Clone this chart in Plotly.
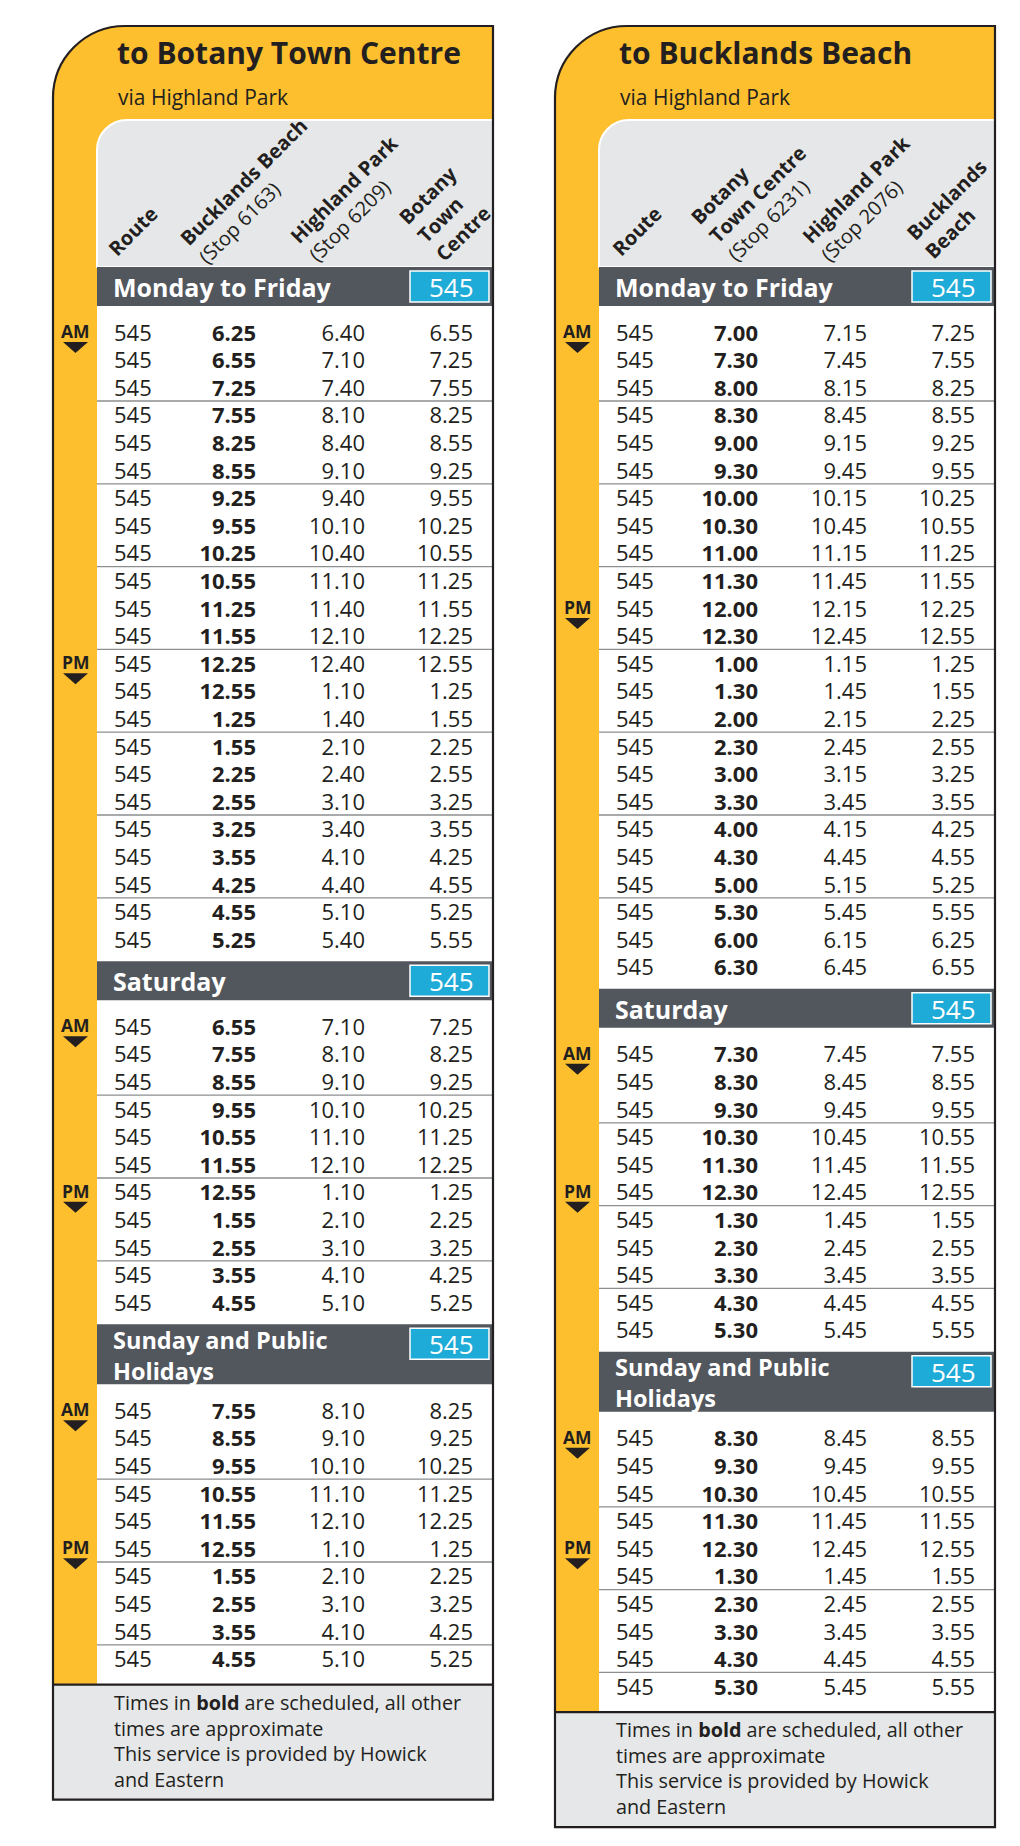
import plotly.graph_objects as go

# ---------------- timetable data ----------------
route_no = "545"

# to Botany Town Centre (via Highland Park)
btc_mf_bucklands = ["6.25", "6.55", "7.25", "7.55", "8.25", "8.55", "9.25", "9.55", "10.25", "10.55", "11.25", "11.55",
                    "12.25", "12.55", "1.25", "1.55", "2.25", "2.55", "3.25", "3.55", "4.25", "4.55", "5.25"]
btc_mf_highland = ["6.40", "7.10", "7.40", "8.10", "8.40", "9.10", "9.40", "10.10", "10.40", "11.10", "11.40", "12.10",
                   "12.40", "1.10", "1.40", "2.10", "2.40", "3.10", "3.40", "4.10", "4.40", "5.10", "5.40"]
btc_mf_botany = ["6.55", "7.25", "7.55", "8.25", "8.55", "9.25", "9.55", "10.25", "10.55", "11.25", "11.55", "12.25",
                 "12.55", "1.25", "1.55", "2.25", "2.55", "3.25", "3.55", "4.25", "4.55", "5.25", "5.55"]
btc_mf_pm = 12

btc_sat_bucklands = ["6.55", "7.55", "8.55", "9.55", "10.55", "11.55", "12.55", "1.55", "2.55", "3.55", "4.55"]
btc_sat_highland = ["7.10", "8.10", "9.10", "10.10", "11.10", "12.10", "1.10", "2.10", "3.10", "4.10", "5.10"]
btc_sat_botany = ["7.25", "8.25", "9.25", "10.25", "11.25", "12.25", "1.25", "2.25", "3.25", "4.25", "5.25"]
btc_sat_pm = 6

btc_sun_bucklands = ["7.55", "8.55", "9.55", "10.55", "11.55", "12.55", "1.55", "2.55", "3.55", "4.55"]
btc_sun_highland = ["8.10", "9.10", "10.10", "11.10", "12.10", "1.10", "2.10", "3.10", "4.10", "5.10"]
btc_sun_botany = ["8.25", "9.25", "10.25", "11.25", "12.25", "1.25", "2.25", "3.25", "4.25", "5.25"]
btc_sun_pm = 5

# to Bucklands Beach (via Highland Park)
bb_mf_botany = ["7.00", "7.30", "8.00", "8.30", "9.00", "9.30", "10.00", "10.30", "11.00", "11.30", "12.00", "12.30",
                "1.00", "1.30", "2.00", "2.30", "3.00", "3.30", "4.00", "4.30", "5.00", "5.30", "6.00", "6.30"]
bb_mf_highland = ["7.15", "7.45", "8.15", "8.45", "9.15", "9.45", "10.15", "10.45", "11.15", "11.45", "12.15", "12.45",
                  "1.15", "1.45", "2.15", "2.45", "3.15", "3.45", "4.15", "4.45", "5.15", "5.45", "6.15", "6.45"]
bb_mf_bucklands = ["7.25", "7.55", "8.25", "8.55", "9.25", "9.55", "10.25", "10.55", "11.25", "11.55", "12.25", "12.55",
                   "1.25", "1.55", "2.25", "2.55", "3.25", "3.55", "4.25", "4.55", "5.25", "5.55", "6.25", "6.55"]
bb_mf_pm = 10

bb_sat_botany = ["7.30", "8.30", "9.30", "10.30", "11.30", "12.30", "1.30", "2.30", "3.30", "4.30", "5.30"]
bb_sat_highland = ["7.45", "8.45", "9.45", "10.45", "11.45", "12.45", "1.45", "2.45", "3.45", "4.45", "5.45"]
bb_sat_bucklands = ["7.55", "8.55", "9.55", "10.55", "11.55", "12.55", "1.55", "2.55", "3.55", "4.55", "5.55"]
bb_sat_pm = 5

bb_sun_botany = ["8.30", "9.30", "10.30", "11.30", "12.30", "1.30", "2.30", "3.30", "4.30", "5.30"]
bb_sun_highland = ["8.45", "9.45", "10.45", "11.45", "12.45", "1.45", "2.45", "3.45", "4.45", "5.45"]
bb_sun_bucklands = ["8.55", "9.55", "10.55", "11.55", "12.55", "1.55", "2.55", "3.55", "4.55", "5.55"]
bb_sun_pm = 4

btc_heads = ["<b>Route</b>", "<b>Bucklands Beach</b><br>(Stop 6163)", "<b>Highland Park</b><br>(Stop 6209)",
             "<b>Botany</b><br><b>Town</b><br><b>Centre</b>"]
bb_heads = ["<b>Route</b>", "<b>Botany</b><br><b>Town Centre</b><br>(Stop 6231)", "<b>Highland Park</b><br>(Stop 2076)",
            "<b>Bucklands</b><br><b>Beach</b>"]

day_names = [["Monday to Friday"], ["Saturday"], ["Sunday and Public", "Holidays"]]
footer_lines = ["Times in <b>bold</b> are scheduled, all other", "times are approximate",
                "This service is provided by Howick", "and Eastern"]

panels = [
    dict(left=53, title="to Botany Town Centre", sub="via Highland Park", heads=btc_heads,
         head_pos=[(132, 231), (252, 191), (353, 198), (446, 213)],
         days=[(btc_mf_bucklands, btc_mf_highland, btc_mf_botany, btc_mf_pm),
               (btc_sat_bucklands, btc_sat_highland, btc_sat_botany, btc_sat_pm),
               (btc_sun_bucklands, btc_sun_highland, btc_sun_botany, btc_sun_pm)]),
    dict(left=555, title="to Bucklands Beach", sub="via Highland Park", heads=bb_heads,
         head_pos=[(636, 231), (757, 194), (865, 198), (955, 209)],
         days=[(bb_mf_botany, bb_mf_highland, bb_mf_bucklands, bb_mf_pm),
               (bb_sat_botany, bb_sat_highland, bb_sat_bucklands, bb_sat_pm),
               (bb_sun_botany, bb_sun_highland, bb_sun_bucklands, bb_sun_pm)]),
]

# ---------------- styling ----------------
W, H = 1020, 1846
YELLOW = "#fdbf2e"
DARK = "#52565d"
BLUE = "#1fabd7"
LIGHT = "#e6e7e8"
INK = "#231f20"
RULE = "#8c8e91"
FONT = "Open Sans"
ROW = 27.6
TEXT_DY = 3  # plotly draws 'middle' text a little high

shapes, annotations = [], []
cols = {k: dict(x=[], y=[], t=[]) for k in ("route", "first", "mid", "last")}


def box(x0, y0, x1, y1, fill, lc=None, lw=0):
    shapes.append(dict(type="rect", xref="x", yref="y", x0=x0, y0=y0, x1=x1, y1=y1, fillcolor=fill,
                       line=dict(color=lc or fill, width=lw), layer="below"))


def rounded(x0, y0, x1, y1, r):
    k = 0.5523 * r
    return (f"M{x0},{y1} L{x0},{y0 + r} C{x0},{y0 + r - k} {x0 + r - k},{y0} {x0 + r},{y0} "
            f"L{x1},{y0} L{x1},{y1} Z")


def label(x, y, text, size, color=INK, xa="left", ya="middle", bold=False):
    annotations.append(dict(x=x, y=y, xref="x", yref="y", text=text, showarrow=False, xanchor=xa,
                            yanchor=ya, align="left",
                            font=dict(family=FONT, size=size, color=color,
                                      weight="bold" if bold else "normal")))


for p in panels:
    L = p["left"]
    R = L + 440
    S = L + 44  # inner edge of yellow strip

    # vertical layout (visual row centres)
    y = 267
    blocks = []
    for names, (c1, c2, c3, pm) in zip(day_names, p["days"]):
        bh = 39 if len(names) == 1 else 60
        first = y + bh + 26
        ys = [first + i * ROW for i in range(len(c1))]
        blocks.append((y, bh, names, ys, c1, c2, c3, pm))
        y = ys[-1] + 22
    body_end = blocks[-1][3][-1] + 26
    bottom = body_end + 115

    shapes.append(dict(type="path", path=rounded(L, 26, R, bottom, 72), fillcolor=YELLOW,
                       line=dict(width=0), layer="below"))
    box(S, 267, R, body_end, "white")
    shapes.append(dict(type="path", path=rounded(S, 120, R, 267, 30), fillcolor=LIGHT,
                       line=dict(color="white", width=2), layer="below"))

    label(L + 62, 52, p["title"], 30, bold=True)
    label(L + 63, 97, p["sub"], 21)
    for txt, (hx, hy) in zip(p["heads"], p["head_pos"]):
        annotations.append(dict(x=hx, y=hy, xref="x", yref="y", text=txt, showarrow=False,
                                xanchor="center", yanchor="middle", textangle=-45, align="left",
                                font=dict(family=FONT, size=20, color=INK)))

    for top, bh, names, ys, c1, c2, c3, pm in blocks:
        box(S, top, R, top + bh, DARK)
        box(L + 357, top + 4, L + 436, top + 35, BLUE, "white", 1.5)
        label(L + 423, top + 20, route_no, 26, color="white", xa="right")
        if len(names) == 1:
            label(L + 58, top + bh / 2 + 0.5, names[0], 25, color="white", bold=True)
        else:
            label(L + 58, top + bh / 2 + 1, "<br>".join(names), 23.5, color="white", bold=True)
        # rules between groups of three
        for i in range(3, len(ys), 3):
            yy = (ys[i - 1] + ys[i]) / 2
            shapes.append(dict(type="line", xref="x", yref="y", x0=S, x1=R, y0=yy, y1=yy,
                               line=dict(color=RULE, width=1.3), layer="below"))
        # AM / PM markers
        for tag, idx in (("AM", 0), ("PM", pm)):
            yy = ys[idx]
            label(L + 22.5, yy - 1, tag, 17.5, xa="center", bold=True)
            shapes.append(dict(type="path", path=f"M{L + 10},{yy + 10} L{L + 35},{yy + 10} L{L + 22.5},{yy + 21} Z",
                               fillcolor=INK, line=dict(width=0), layer="below"))
        for i, yy in enumerate(ys):
            ty = yy + TEXT_DY
            cols["route"]["x"].append(L + 61); cols["route"]["y"].append(ty); cols["route"]["t"].append(route_no)
            cols["first"]["x"].append(L + 203); cols["first"]["y"].append(ty); cols["first"]["t"].append(c1[i])
            cols["mid"]["x"].append(L + 312); cols["mid"]["y"].append(ty); cols["mid"]["t"].append(c2[i])
            cols["last"]["x"].append(L + 420); cols["last"]["y"].append(ty); cols["last"]["t"].append(c3[i])

    # footer
    box(L, body_end, R, bottom, LIGHT)
    label(L + 59, body_end + 2, "<br>".join(footer_lines), 19.8, ya="top")
    shapes.append(dict(type="line", xref="x", yref="y", x0=L, x1=R, y0=body_end, y1=body_end,
                       line=dict(color=INK, width=2.2), layer="below"))
    shapes.append(dict(type="path", path=rounded(L, 26, R, bottom, 72), fillcolor="rgba(0,0,0,0)",
                       line=dict(color=INK, width=2.2), layer="below"))

fig = go.Figure()
for key, pos, weight in (("route", "middle right", "normal"), ("first", "middle left", "bold"),
                         ("mid", "middle left", "normal"), ("last", "middle left", "normal")):
    c = cols[key]
    fig.add_trace(go.Scatter(x=c["x"], y=c["y"], text=c["t"], mode="text", textposition=pos,
                             textfont=dict(family=FONT, size=22, color=INK, weight=weight),
                             hoverinfo="skip"))

fig.update_layout(
    width=W, height=H, margin=dict(l=0, r=0, t=0, b=0),
    paper_bgcolor="white", plot_bgcolor="white", showlegend=False,
    xaxis=dict(range=[0, W], visible=False, fixedrange=True),
    yaxis=dict(range=[H, 0], visible=False, fixedrange=True),
    shapes=shapes, annotations=annotations,
)

fig.write_html("out.html", config={"displayModeBar": False},
               post_script="document.body.style.margin='0';")
